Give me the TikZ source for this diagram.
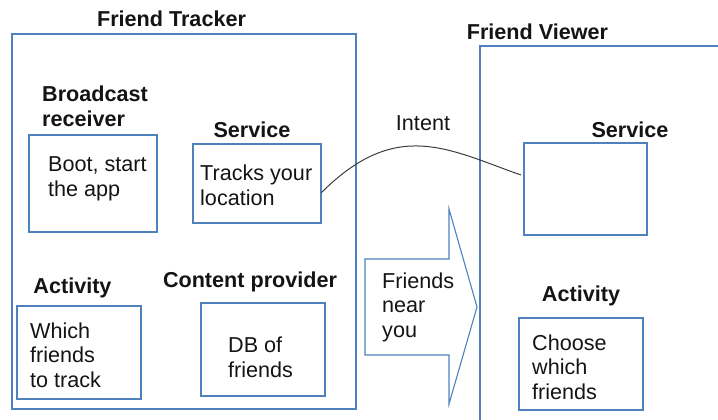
\documentclass[tikz,border=0pt]{standalone}
\usepackage{fontspec}
\setmainfont{Liberation Sans}
\usetikzlibrary{calc}
\definecolor{boxblue}{RGB}{79,129,189}
\definecolor{ink}{RGB}{20,20,20}
\definecolor{linkgray}{RGB}{60,60,60}

\begin{document}
\begin{tikzpicture}[x=1pt,y=-1pt,
  frame/.style={draw=boxblue,line width=1.1pt},
  box/.style={frame,rectangle,inner sep=0pt,outer sep=0pt,anchor=north west},
  heading/.style={font=\fontsize{21.6}{24.5}\selectfont\bfseries,text=ink,inner sep=0pt,anchor=base},
  headingleft/.style={font=\fontsize{21.6}{24.5}\selectfont\bfseries,text=ink,inner sep=0pt,anchor=base west,align=left},
  body/.style={font=\fontsize{21.6}{24.5}\selectfont,text=ink,inner sep=0pt,anchor=base west,align=left},
  link/.style={draw=linkgray,line width=1pt},
]
\useasboundingbox (0,0) rectangle (718,420);
% multi-line texts are placed by the baseline of their last line

% Friend Tracker application
\node[box,minimum width=344pt,minimum height=375pt] (tracker) at (12,34) {};
\node[heading] (trackertitle) at (171.5,27) {Friend Tracker};

\node[headingleft] (bcastlbl) at (42,126) {Broadcast\\receiver};
\node[box,minimum width=128pt,minimum height=97pt] (bcast) at (29,135) {};
\node[body] (boottxt) at (48,196) {Boot, start\\the app};

\node[heading] (svcalbl) at (252,137) {Service};
\node[box,minimum width=128pt,minimum height=79pt] (svca) at (193,144) {};
\node[body] (trackstxt) at (200,205) {Tracks your\\location};

\node[heading] (actalbl) at (72.5,293) {Activity};
\node[box,minimum width=124pt,minimum height=93pt] (acta) at (17,306) {};
\node[body] (whichtxt) at (30,387) {Which\\friends\\to track};

\node[heading] (cplbl) at (250,287) {Content provider};
\node[box,minimum width=124pt,minimum height=93pt] (cp) at (201,303) {};
\node[body] (dbtxt) at (228,377) {DB of\\friends};

% Friend Viewer application (runs past the page edge)
\coordinate (viewerbl) at (480,420);
\coordinate (viewertl) at (480,46);
\coordinate (viewertr) at (718,46);
\draw[frame] (viewerbl) -- (viewertl) -- (viewertr);
\node[heading] (viewertitle) at (537.5,40) {Friend Viewer};

\node[heading] (svcblbl) at (630,137) {Service};
\node[box,minimum width=123pt,minimum height=92pt] (svcb) at (524,143) {};

\node[heading] (actblbl) at (581,301) {Activity};
\node[box,minimum width=124pt,minimum height=92pt] (actb) at (519,318) {};
\node[body] (choosetxt) at (532,399) {Choose\\which\\friends};

% Block arrow carrying data between the apps
\draw[frame] (365,259) -- (449,259) -- (449,209) -- (477,307) -- (449,404)
  -- (449,355) -- (365,355) -- cycle;
\node[body] (neartxt) at (382,337) {Friends\\near\\you};

% Intent link between the two services
\draw[link] ($(svca.east)+(0,9.5)$) .. controls (396.6,117.4) and (448.4,149.6) .. ($(svcb.west)+(-3,-14)$);
\node[font=\fontsize{21.6}{24.5}\selectfont,text=ink,inner sep=0pt,anchor=base] (intentlbl) at (423,131) {Intent};
\end{tikzpicture}
\end{document}
